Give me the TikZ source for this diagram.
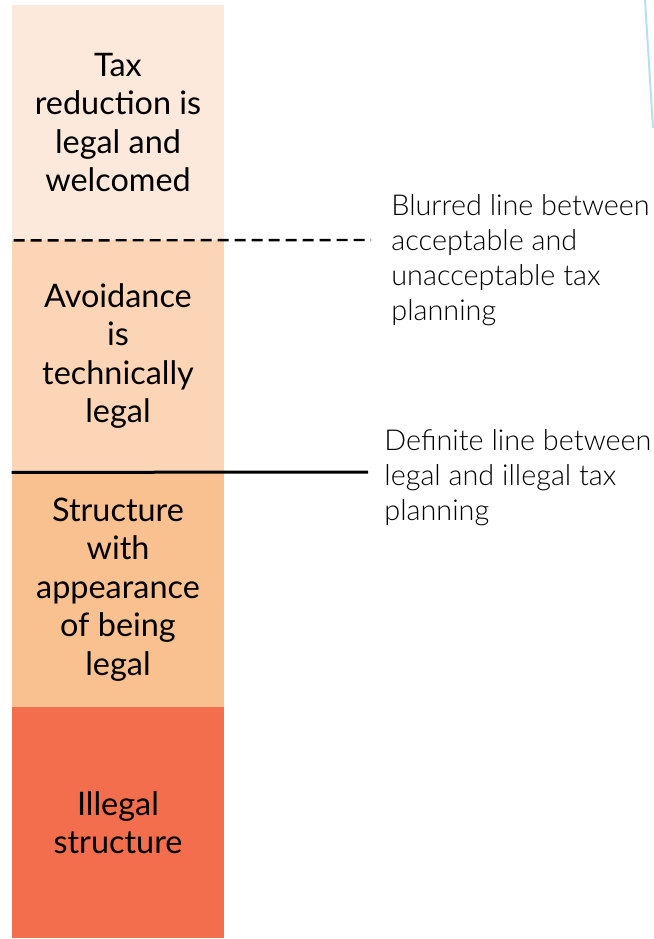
\documentclass[tikz,border=0pt]{standalone}
\usepackage{fontspec}
\setmainfont{Lato}
\newfontfamily\lightfont{Lato Light}
\usetikzlibrary{positioning}

\definecolor{bandWelcome}{RGB}{252,233,220}
\definecolor{bandAvoid}{RGB}{251,213,181}
\definecolor{bandLooks}{RGB}{249,192,144}
\definecolor{bandIllegal}{RGB}{242,110,77}
\definecolor{edgeBlue}{RGB}{150,210,240}

\tikzset{
  band/.style={rectangle, inner sep=0pt, minimum width=106pt, align=center,
    font=\fontsize{16.2}{19.2}\selectfont},
  note/.style={anchor=north west, inner sep=0pt, align=left,
    font=\lightfont\fontsize{14.4}{17.5}\selectfont},
}

\begin{document}
\begin{tikzpicture}[x=0.5pt, y=-0.5pt]
		\def\colMid{118} % Centre of the column
		
		% Fix the page size
		\useasboundingbox (0,0) rectangle (654,939);
		
		% Draw the four bands of the column
		\node[band, fill=bandWelcome, minimum height=117.5pt] (welcome) at (\colMid,122.5)
			{Tax\\reduction is\\legal and\\welcomed};
		\node[band, fill=bandAvoid, minimum height=116pt] (avoid) at (\colMid,356)
			{Avoidance\\is\\technically\\legal};
		\node[band, fill=bandLooks, minimum height=117.5pt] (looks) at (\colMid,589.5)
			{Structure\\with\\appearance\\of being\\legal};
		\node[band, fill=bandIllegal, minimum height=115.5pt] (illegal) at (\colMid,822.5)
			{Illegal\\structure};
		
		% Ends of the two lines
		\coordinate (blurEnd) at (371,240);
		\coordinate (defEnd) at (368,472);
		
		% Draw the dashed and the solid line
		\draw[line width=1.2pt, dash pattern=on 5.5pt off 3pt] ([xshift=1pt]welcome.south west) -- (blurEnd);
		\draw[line width=1.5pt] (avoid.south west) -- (defEnd);
		
		% Place the notes beside the lines
		\node[note] (blurNote) at (391,194) {Blurred line between\\acceptable and\\unacceptable tax\\planning};
		\node[note] (defNote) at (384,429) {Definite line between\\legal and illegal tax\\planning};
		
		% Faint edge at the top right
		\coordinate (edgeTop) at (645,0);
		\coordinate (edgeBot) at (653,128);
		\draw[edgeBlue, line width=1pt, opacity=0.7] (edgeTop) -- (edgeBot);
	\end{tikzpicture}
\end{document}
